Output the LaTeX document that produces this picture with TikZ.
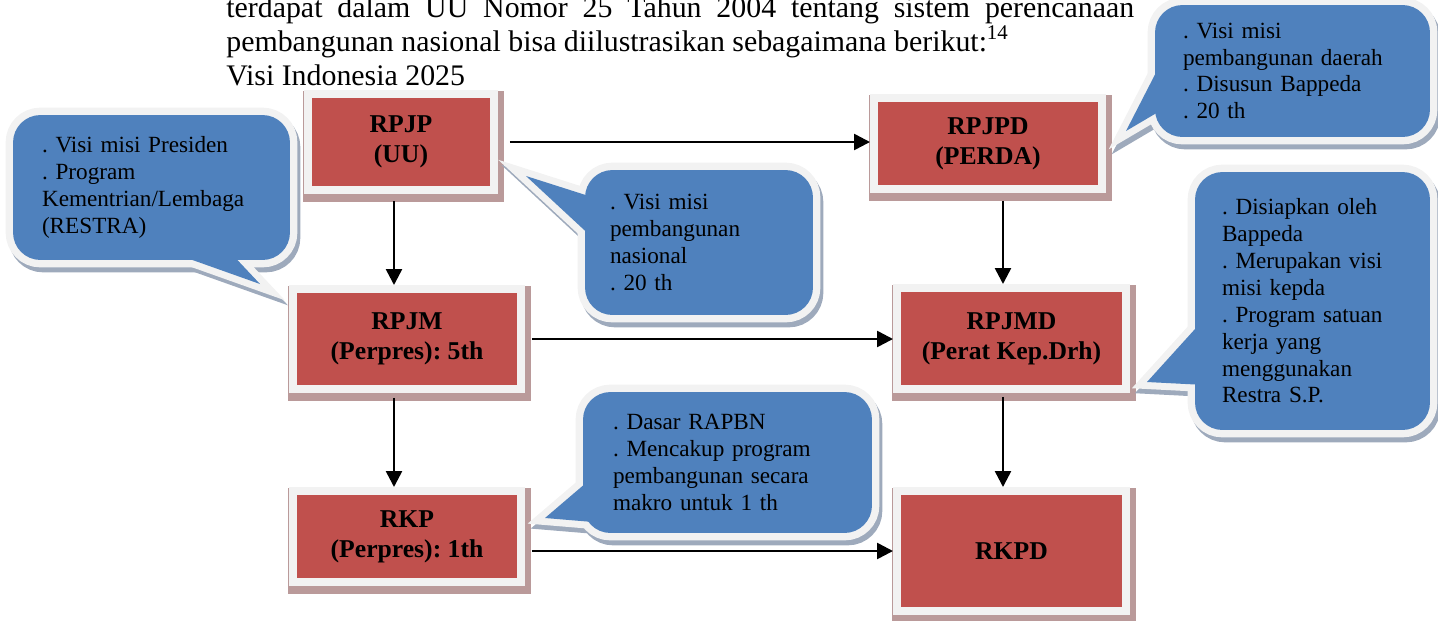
\documentclass[tikz,border=0pt]{standalone}
\usepackage{fontspec}
\setmainfont{Liberation Serif}
\usepackage{tikz}
\usetikzlibrary{arrows.meta,positioning,calc,backgrounds}
\definecolor{boxred}{RGB}{192,80,77}
\definecolor{rimgray}{RGB}{242,242,242}
\definecolor{boxshade}{RGB}{186,154,154}
\definecolor{bubblue}{RGB}{79,129,189}
\definecolor{bubshade}{RGB}{158,170,188}
\frenchspacing
\tikzset{
  box/.style={draw=rimgray, line width=0.16cm, fill=boxred, inner sep=0pt, align=center, font=\fontsize{14.6}{17}\selectfont\bfseries},
  bubble/.style={fill=bubblue, rounded corners=0.55cm, inner sep=0pt, align=left, font=\fontsize{13.2}{15.3}\selectfont},
  rimline/.style={draw=rimgray, line width=0.28cm, line join=miter},
  shadeline/.style={draw=bubshade, line width=0.28cm, line join=miter},
  arr/.style={-{Triangle[length=0.32cm,width=0.32cm]}, line width=0.05cm},
  para/.style={anchor=base west, inner sep=0pt, font=\fontsize{17}{19.3}\selectfont}
}
\begin{document}
\begin{tikzpicture}[x=0.02cm, y=-0.02cm]
\useasboundingbox (0,0) rectangle (1438,620);
\node[para] (line1) at (226,17) {\makebox[18.16cm][s]{terdapat dalam UU Nomor 25 Tahun 2004 tentang sistem perencanaan}};
\node[para] (line2) at (226,51) {pembangunan nasional bisa diilustrasikan sebagaimana berikut:\textsuperscript{14}};
\node[para] (line3) at (226,85) {Visi Indonesia 2025};

\node[box, minimum width=3.72cm, minimum height=1.92cm] (rpjp) at (401,142) {RPJP\\(UU)};
\node[box, minimum width=4.56cm, minimum height=1.82cm] (rpjpd) at (988,143.5) {RPJPD\\(PERDA)};
\node[box, minimum width=4.56cm, minimum height=2.0cm] (rpjm) at (407,339) {RPJM\\(Perpres): 5th};
\node[box, minimum width=4.58cm, minimum height=2.02cm] (rpjmd) at (1011.5,338.5) {RPJMD\\(Perat Kep.Drh)};
\node[box, minimum width=4.56cm, minimum height=1.82cm] (rkp) at (407,536.5) {RKP\\(Perpres): 1th};
\node[box, minimum width=4.58cm, minimum height=2.4cm] (rkpd) at (1011.5,551) {RKPD};

\node[bubble, minimum width=5.54cm, minimum height=2.9cm, text width=4.38cm] (cpres) at (151.5,187.5)
  {. Visi misi Presiden\\. Program\\Kementrian/Lembaga\\(RESTRA)};
\node[bubble, minimum width=4.56cm, minimum height=2.9cm, text width=3.56cm] (cnas) at (699,242.5)
  {. Visi misi\\pembangunan\\nasional\\. 20 th};
\node[bubble, minimum width=5.5cm, minimum height=2.64cm, text width=4.38cm] (cdaerah) at (1292.5,71)
  {. Visi misi\\pembangunan daerah\\. Disusun Bappeda\\. 20 th};
\node[bubble, minimum width=4.7cm, minimum height=5.16cm, text width=3.62cm] (ckepda) at (1312.5,301)
  {. Disiapkan oleh\\Bappeda\\. Merupakan visi\\misi kepda\\. Program satuan\\kerja yang\\menggunakan\\Restra S.P.};
\node[bubble, minimum width=5.78cm, minimum height=2.82cm, text width=4.58cm] (crapbn) at (727.5,462.5)
  {. Dasar RAPBN\\. Mencakup program\\pembangunan secara\\makro untuk 1 th};

\coordinate (cpres-a) at (170,252);
\coordinate (cpres-t) at (260,284);
\coordinate (cpres-b) at (228,250);
\coordinate (cnas-a) at (595,198);
\coordinate (cnas-t) at (526,176);
\coordinate (cnas-b) at (595,240);
\coordinate (cdaerah-a) at (1165,55);
\coordinate (cdaerah-t) at (1126,131);
\coordinate (cdaerah-b) at (1165,108);
\coordinate (ckepda-a) at (1205,318);
\coordinate (ckepda-t) at (1147,382);
\coordinate (ckepda-b) at (1205,385);
\coordinate (crapbn-a) at (593,477);
\coordinate (crapbn-t) at (545,518);
\coordinate (crapbn-b) at (593,522);

\foreach \c in {cpres,cnas,cdaerah,ckepda,crapbn}
  \fill[bubblue] (\c-a) -- (\c-t) -- (\c-b) -- cycle;

\begin{scope}[on background layer]
\foreach \b in {rpjp,rpjpd,rpjm,rpjmd,rkp,rkpd}
  \fill[boxshade] ([shift={(-1,1)}]\b.north west) rectangle ([shift={(6,8)}]\b.south east);
\foreach \c in {cpres,cnas,cdaerah,ckepda,crapbn}{
  \draw[shadeline, fill=bubshade, rounded corners=0.55cm] ([shift={(3,5)}]\c.south west) rectangle ([shift={(3,5)}]\c.north east);
  \draw[shadeline] ([shift={(3,5)}]\c-a) -- ([shift={(3,5)}]\c-t) -- ([shift={(3,5)}]\c-b);
}
\foreach \c in {cpres,cnas,cdaerah,ckepda,crapbn}{
  \draw[rimline, rounded corners=0.55cm] (\c.south west) rectangle (\c.north east);
  \draw[rimline] (\c-a) -- (\c-t) -- (\c-b);
}
\end{scope}

\draw[arr, shorten <=0.24cm] (rpjp.east) -- (rpjp.east -| rpjpd.west);
\draw[arr, shorten <=0.14cm] (rpjm.east) -- (rpjm.east -| rpjmd.west);
\draw[arr, shorten <=0.14cm] (rkp.east |- rkpd.west) -- (rkpd.west);
\draw[arr, shorten <=0.14cm] ([xshift=-0.14cm]rpjp.south) -- ([xshift=-0.14cm]rpjp.south |- rpjm.north);
\draw[arr, shorten <=0.1cm] ([xshift=-0.26cm]rpjm.south) -- ([xshift=-0.26cm]rpjm.south |- rkp.north);
\draw[arr, shorten <=0.16cm] ([xshift=0.3cm]rpjpd.south) -- ([xshift=0.3cm]rpjpd.south |- rpjmd.north);
\draw[arr, shorten <=0.08cm] ([xshift=-0.17cm]rpjmd.south) -- ([xshift=-0.17cm]rpjmd.south |- rkpd.north);
\end{tikzpicture}
\end{document}
